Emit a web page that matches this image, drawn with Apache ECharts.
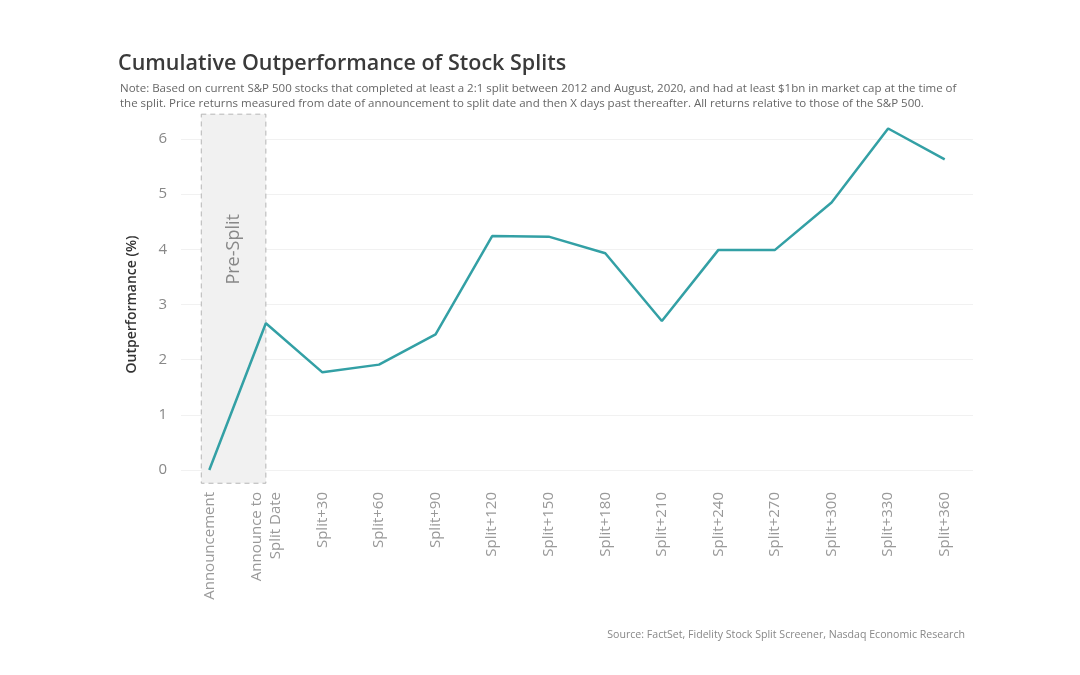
<!DOCTYPE html>
<html>
<head>
<meta charset="utf-8">
<script src="https://cdn.jsdelivr.net/npm/echarts@6/dist/echarts.min.js"></script>
<style>
html,body{margin:0;padding:0;background:#fff;}
#chart{width:1080px;height:675px;}
</style>
</head>
<body>
<div id="chart"></div>
<script>
var categories = ['Announcement','Announce to\nSplit Date','Split+30','Split+60','Split+90','Split+120','Split+150','Split+180','Split+210','Split+240','Split+270','Split+300','Split+330','Split+360'];
var outperformance = [0, 2.66, 1.77, 1.91, 2.46, 4.24, 4.23, 3.93, 2.70, 3.99, 3.99, 4.85, 6.19, 5.63];
var yTicks = [0, 1, 2, 3, 4, 5, 6];
var preSplitLabel = 'Pre-Split';
var titleText = 'Cumulative Outperformance of Stock Splits';
var noteText = 'Note: Based on current S&P 500 stocks that completed at least a 2:1 split between 2012 and August, 2020, and had at least $1bn in market cap at the time of\nthe split. Price returns measured from date of announcement to split date and then X days past thereafter. All returns relative to those of the S&P 500.';
var sourceText = 'Source: FactSet, Fidelity Stock Split Screener, Nasdaq Economic Research';

var font = '"Open Sans", "Noto Sans", sans-serif';
var chart = echarts.init(document.getElementById('chart'), null, {renderer: 'canvas'});
var option = {
  backgroundColor: '#ffffff',
  animation: false,
  title: [
    {text: titleText, left: 113, top: 48, textStyle: {fontFamily: font, fontSize: 21.5, fontWeight: 600, color: '#3a3a3a'}},
    {text: noteText, left: 115, top: 76, textStyle: {fontFamily: font, fontSize: 11.5, fontWeight: 'normal', color: '#666666', lineHeight: 15}},
    {text: sourceText, right: 110, top: 624, textStyle: {fontFamily: font, fontSize: 10.6, fontWeight: 'normal', color: '#888888'}}
  ],
  grid: {left: 181, right: 107, top: 139, bottom: 205},
  xAxis: {
    type: 'category',
    data: categories,
    boundaryGap: true,
    axisLine: {show: false},
    axisTick: {show: false},
    axisLabel: {rotate: 90, margin: 22, color: '#999999', fontFamily: font, fontSize: 15, lineHeight: 19, interval: 0}
  },
  yAxis: {
    type: 'value',
    min: yTicks[0],
    max: yTicks[yTicks.length - 1],
    interval: 1,
    name: 'Outperformance (%)',
    nameLocation: 'middle',
    nameGap: 42,
    nameRotate: 90,
    nameTextStyle: {fontFamily: font, fontSize: 14, fontWeight: 600, color: '#333333'},
    axisLine: {show: false},
    axisTick: {show: false},
    axisLabel: {color: '#888888', fontFamily: font, fontSize: 15, margin: 14},
    splitLine: {lineStyle: {color: '#f1f1f1', width: 1}}
  },
  series: [{
    type: 'line',
    data: outperformance,
    clip: false,
    symbol: 'none',
    lineStyle: {color: '#33a0a5', width: 2.5},
    z: 5
  }]
};
chart.setOption(option);

// Pre-split shaded region (annotation) positioned via the chart's own scales
var x0 = chart.convertToPixel({xAxisIndex: 0}, 0);
var x1 = chart.convertToPixel({xAxisIndex: 0}, 1);
var yTop = chart.convertToPixel({yAxisIndex: 0}, 6.45);
var yBot = chart.convertToPixel({yAxisIndex: 0}, -0.24);
var left = x0 - 8;
chart.setOption({
  graphic: [
    {type: 'rect', z: 1, shape: {x: left, y: yTop, width: x1 - left, height: yBot - yTop},
     style: {fill: '#f1f1f1', stroke: '#b5b5b5', lineWidth: 1, lineDash: [5, 4]}},
    {type: 'text', z: 2, x: (left + x1) / 2, y: chart.convertToPixel({yAxisIndex: 0}, 4.0), rotation: Math.PI / 2,
     style: {text: preSplitLabel, fill: '#888888', font: '18px ' + font, textAlign: 'center', textVerticalAlign: 'middle'}}
  ]
});
</script>
</body>
</html>
